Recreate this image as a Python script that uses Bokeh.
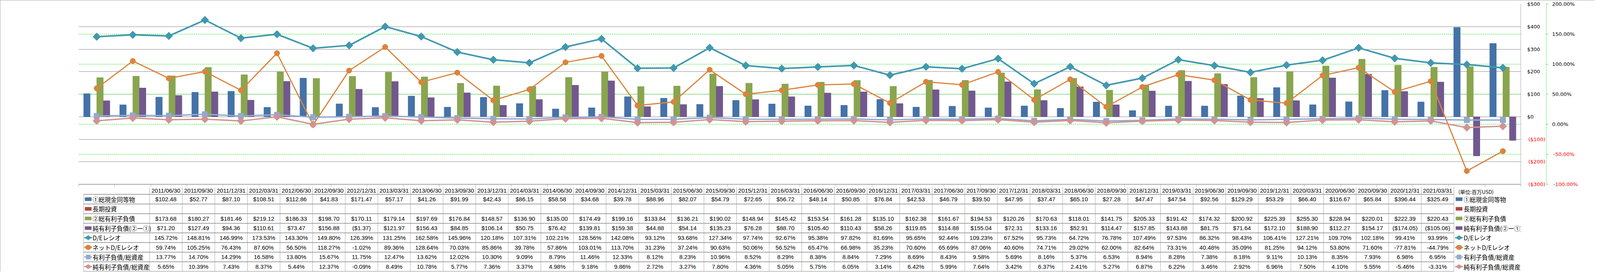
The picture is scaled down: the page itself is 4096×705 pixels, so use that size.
import math
from bokeh.plotting import figure
from bokeh.models import (ColumnDataSource, Range1d, LinearAxis, FixedTicker,
                          CustomJSTickFormatter, Grid, Span)
from bokeh.layouts import column
from bokeh.transform import dodge
from bokeh.core.properties import value
from bokeh.embed import file_html
from bokeh.resources import INLINE

# ---------------- data ----------------
dates = ["2011/06/30", "2011/09/30", "2011/12/31", "2012/03/31", "2012/06/30", "2012/09/30",
         "2012/12/31", "2013/03/31", "2013/06/30", "2013/09/30", "2013/12/31", "2014/03/31",
         "2014/06/30", "2014/09/30", "2014/12/31", "2015/03/31", "2015/06/30", "2015/09/30",
         "2015/12/31", "2016/03/31", "2016/06/30", "2016/09/30", "2016/12/31", "2017/03/31",
         "2017/06/30", "2017/09/30", "2017/12/31", "2018/03/31", "2018/06/30", "2018/09/30",
         "2018/12/31", "2019/03/31", "2019/06/30", "2019/09/30", "2019/12/31", "2020/03/31",
         "2020/06/30", "2020/09/30", "2020/12/31", "2021/03/31"]
cash = [102.48, 52.77, 87.10, 108.51, 112.86, 41.83, 171.47, 57.17, 41.26, 91.99,
        42.43, 86.15, 58.58, 34.68, 39.78, 88.96, 82.07, 54.79, 72.65, 56.72,
        48.14, 50.85, 76.84, 42.53, 46.79, 39.50, 47.95, 37.47, 65.10, 27.28,
        47.47, 47.54, 92.56, 129.29, 53.29, 66.40, 116.67, 65.84, 396.44, 325.49]
long_term_investment = []  # empty series in the source
total_debt = [173.68, 180.27, 181.46, 219.12, 186.33, 198.70, 170.11, 179.14, 197.69, 176.84,
              148.57, 136.90, 135.00, 174.49, 199.16, 133.84, 136.21, 190.02, 148.94, 145.42,
              153.54, 161.28, 135.10, 162.38, 161.67, 194.53, 120.26, 170.63, 118.01, 141.75,
              205.33, 191.42, 174.32, 200.92, 225.39, 255.30, 228.94, 220.01, 222.39, 220.43]
net_debt = [71.20, 127.49, 94.36, 110.61, 73.47, 156.88, -1.37, 121.97, 156.43, 84.85,
            106.14, 50.75, 76.42, 139.81, 159.38, 44.88, 54.14, 135.23, 76.28, 88.70,
            105.40, 110.43, 58.26, 119.85, 114.88, 155.04, 72.31, 133.16, 52.91, 114.47,
            157.85, 143.88, 81.75, 71.64, 172.10, 188.90, 112.27, 154.17, -174.05, -105.06]
de_ratio = [145.72, 148.81, 146.99, 173.53, 143.30, 149.80, 126.39, 131.25, 162.58, 145.96,
            120.18, 107.31, 102.21, 128.56, 142.08, 93.12, 93.68, 127.34, 97.74, 92.67,
            95.38, 97.82, 81.69, 95.65, 92.44, 109.23, 67.52, 95.73, 64.72, 76.78,
            107.49, 97.53, 86.32, 98.43, 106.41, 127.21, 109.70, 102.18, 99.41, 93.99]
net_de_ratio = [59.74, 105.25, 76.43, 87.60, 56.50, 118.27, -1.02, 89.36, 128.64, 70.03,
                85.86, 39.78, 57.86, 103.01, 113.70, 31.23, 37.24, 90.63, 50.06, 56.52,
                65.47, 66.98, 35.23, 70.60, 65.69, 87.06, 40.60, 74.71, 29.02, 62.00,
                82.64, 73.31, 40.48, 35.09, 81.25, 94.12, 53.80, 71.60, -77.81, -44.79]
debt_to_assets = [13.77, 14.70, 14.29, 16.58, 13.80, 15.67, 11.75, 12.47, 13.62, 12.02,
                  10.30, 9.09, 8.79, 11.46, 12.33, 8.12, 8.23, 10.96, 8.52, 8.29,
                  8.38, 8.84, 7.29, 8.69, 8.43, 9.58, 5.69, 8.16, 5.37, 6.53,
                  8.94, 8.28, 7.38, 8.18, 9.11, 10.13, 8.35, 7.93, 6.98, 6.95]
net_debt_to_assets = [5.65, 10.39, 7.43, 8.37, 5.44, 12.37, -0.09, 8.49, 10.78, 5.77,
                      7.36, 3.37, 4.98, 9.18, 9.86, 2.72, 3.27, 7.80, 4.36, 5.05,
                      5.75, 6.05, 3.14, 6.42, 5.99, 7.64, 3.42, 6.37, 2.41, 5.27,
                      6.87, 6.22, 3.46, 2.92, 6.96, 7.50, 4.10, 5.55, -5.46, -3.31]
series_names = ["①総現金同等物", "長期投資", "②総有利子負債", "純有利子負債(②ー①)",
                "D/Eレシオ", "ネットD/Eレシオ", "有利子負債/総資産", "純有利子負債/総資産"]
usd_ticks = [-300, -200, -100, 0, 100, 200, 300, 400, 500]
pct_ticks = [-100, -50, 0, 50, 100, 150, 200]
unit_label = "(単位:百万USD)"

# ---------------- styles ----------------
C_CASH, C_LTI, C_DEBT, C_NET = "#4572A7", "#AA4643", "#89A54E", "#71588F"
C_DE, C_NDE, C_DA, C_NDA = "#4198AF", "#DB843D", "#93A9CF", "#D19392"
GRAY, GRAY_L, GREEN = "#868686", "#a8a8a8", "#00E000"
AX_FONT = "DejaVu Sans"
TB_FONT = "Liberation Sans"
JP_FONT = "Noto Sans CJK JP"

W, H = 4082, 696
SX, SY = W / 6226, H / 1071
n = len(dates)

top_b = round(15.6 * SY)
frame_h = round(711.4 * SY)
bot_b = 7
H1 = top_b + frame_h + bot_b
left_b = round(306 * SX)
frame_w = round(5631 * SX)
right_b = W - left_b - frame_w

src = ColumnDataSource(dict(idx=list(range(n)), cash=cash, debt=total_debt, net=net_debt,
                            de=de_ratio, nde=net_de_ratio, da=debt_to_assets, nda=net_debt_to_assets))

p1 = figure(width=W, height=H1, x_range=Range1d(-0.5, n - 0.5), y_range=Range1d(-300, 500),
            output_backend="svg", toolbar_location=None, x_axis_location=None, y_axis_location=None,
            min_border_left=left_b, min_border_right=right_b, min_border_top=top_b,
            min_border_bottom=bot_b)
p1.extra_y_ranges = {"pct": Range1d(-100, 200)}
p1.outline_line_color = None
p1.background_fill_color = "white"
p1.border_fill_color = "white"
for g in p1.grid:
    g.visible = False

def no_ticks(ax):
    ax.major_tick_out = 0
    ax.major_tick_in = 0
    ax.minor_tick_out = 0
    ax.minor_tick_in = 0
    ax.major_tick_line_color = None
    ax.minor_tick_line_color = None

# $ axis (non-negative labels, black)
axA = LinearAxis(ticker=FixedTicker(ticks=usd_ticks),
                 formatter=CustomJSTickFormatter(code="return tick >= 0 ? '$' + tick.toFixed(0) : '';"),
                 axis_line_color=None, major_label_standoff=16,
                 major_label_text_font=AX_FONT, major_label_text_font_size="13px",
                 major_label_text_color="#000000")
no_ticks(axA)
p1.add_layout(axA, "right")
# $ axis (negative labels, red) overlapping the previous column
axB = LinearAxis(ticker=FixedTicker(ticks=[t for t in usd_ticks if t < 0]),
                 formatter=CustomJSTickFormatter(code="return '($' + Math.abs(tick).toFixed(0) + ')';"),
                 axis_line_color=None, major_label_standoff=-33,
                 major_label_text_font=AX_FONT, major_label_text_font_size="13px",
                 major_label_text_color="#FF0000")
no_ticks(axB)
p1.add_layout(axB, "right")
# % axis
axC = LinearAxis(y_range_name="pct", ticker=FixedTicker(ticks=pct_ticks),
                 formatter=CustomJSTickFormatter(code="return tick >= 0 ? tick.toFixed(2) + '%' : '';"),
                 axis_line_color=GREEN, axis_line_dash="3 2", axis_line_width=1,
                 major_tick_out=5, major_tick_in=0, minor_tick_out=0, minor_tick_in=0,
                 major_tick_line_color=GREEN, minor_tick_line_color=None,
                 major_label_standoff=10,
                 major_label_text_font=AX_FONT, major_label_text_font_size="13px",
                 major_label_text_color="#000000")
p1.add_layout(axC, "right")
axD = LinearAxis(y_range_name="pct", ticker=FixedTicker(ticks=[t for t in pct_ticks if t < 0]),
                 formatter=CustomJSTickFormatter(code="return tick.toFixed(2) + '%';"),
                 axis_line_color=None, major_label_standoff=-58,
                 major_label_text_font=AX_FONT, major_label_text_font_size="13px",
                 major_label_text_color="#FF0000")
no_ticks(axD)
p1.add_layout(axD, "right")
# bottom axis = header top line with column separators
axE = LinearAxis(ticker=FixedTicker(ticks=[j - 0.5 for j in range(n + 1)]),
                 formatter=CustomJSTickFormatter(code="return '';"),
                 axis_line_color=GRAY, axis_line_width=1.5,
                 major_tick_out=bot_b, major_tick_in=0, minor_tick_out=0, minor_tick_in=0,
                 major_tick_line_color=GRAY_L, major_tick_line_width=1,
                 minor_tick_line_color=None, major_label_standoff=0,
                 major_label_text_font_size="1px")
p1.add_layout(axE, "below")

# grids
p1.add_layout(Grid(dimension=1, ticker=FixedTicker(ticks=usd_ticks),
                   grid_line_color=GRAY, grid_line_width=1))
p1.add_layout(Grid(dimension=1, ticker=FixedTicker(ticks=[t for t in pct_ticks if -100 < t < 200]),
                   y_range_name="pct", grid_line_color=GREEN, grid_line_dash="3 2",
                   grid_line_width=1.2))
p1.add_layout(Span(location=n - 0.5, dimension="height", line_color=GRAY, line_width=1.5))

# bars
bw = 0.18
p1.vbar(x=dodge("idx", -0.2727, range=p1.x_range), top="cash", width=bw, color=C_CASH, source=src)
p1.vbar(x=dodge("idx", 0.0909, range=p1.x_range), top="debt", width=bw, color=C_DEBT, source=src)
p1.vbar(x=dodge("idx", 0.2727, range=p1.x_range), top="net", width=bw, color=C_NET, source=src)

# lines (right axis)
p1.line("idx", "de", source=src, y_range_name="pct", line_color=C_DE, line_width=4, line_join="round")
p1.scatter("idx", "de", source=src, y_range_name="pct", marker="square", angle=math.pi / 4,
           size=14, fill_color=C_DE, line_color=C_DE)
p1.line("idx", "nde", source=src, y_range_name="pct", line_color=C_NDE, line_width=3, line_join="round")
p1.scatter("idx", "nde", source=src, y_range_name="pct", marker="circle",
           size=14, fill_color=C_NDE, line_color=C_NDE)
p1.line("idx", "da", source=src, y_range_name="pct", line_color=C_DA, line_width=3.5, line_join="round")
p1.scatter("idx", "da", source=src, y_range_name="pct", marker="square",
           size=14, fill_color=C_DA, line_color="#8aa2cc")
p1.line("idx", "nda", source=src, y_range_name="pct", line_color=C_NDA, line_width=3.5, line_join="round")
p1.scatter("idx", "nda", source=src, y_range_name="pct", marker="square", angle=math.pi / 4,
           size=14, fill_color=C_NDA, line_color=C_NDA)

# ---------------- table ----------------
H2 = H - H1
COL = 5631 / n
def fx(full):
    return (full - 306) / COL - 0.5
ROW, R0 = 38.0, 728.0
y_top = (H1 / SY - R0) / ROW
y_bot = (1071 - R0) / ROW

p2 = figure(width=W, height=H2, x_range=Range1d(fx(0), fx(6226)), y_range=Range1d(y_bot, y_top),
            output_backend="svg", toolbar_location=None, x_axis_location=None, y_axis_location=None,
            min_border=0)
p2.outline_line_color = None
p2.background_fill_color = "white"
p2.border_fill_color = "white"
for g in p2.grid:
    g.visible = False

# table rules
p2.segment(x0=[j - 0.5 for j in range(n + 1)], y0=[0] * (n + 1),
           x1=[j - 0.5 for j in range(n + 1)], y1=[9] * (n + 1), line_color=GRAY_L, line_width=1)
p2.segment(x0=[fx(21)], y0=[1], x1=[fx(21)], y1=[9], line_color=GRAY_L, line_width=1)
p2.segment(x0=[fx(21)] * 9, y0=list(range(1, 10)), x1=[n - 0.5] * 9, y1=list(range(1, 10)),
           line_color=GRAY, line_width=1.5)

def money(v):
    return f"(${abs(v):.2f})" if v < 0 else f"${v:.2f}"

def pct(v):
    return f"{v:.2f}%"

header_y = (751 - R0) / ROW
tx, ty, tt = [], [], []
for i, d in enumerate(dates):
    tx.append(i); ty.append(header_y); tt.append(d)
rows = [(1, cash, money), (3, total_debt, money), (4, net_debt, money), (5, de_ratio, pct),
        (6, net_de_ratio, pct), (7, debt_to_assets, pct), (8, net_debt_to_assets, pct)]
for r, arr, f in rows:
    for i, v in enumerate(arr):
        tx.append(i); ty.append(r + 0.5); tt.append(f(v))
p2.text(x=tx, y=ty, text=tt, text_align="center", text_baseline="middle",
        text_font=value(TB_FONT), text_font_size="15px", text_color="#000000")

# legend columns (left and right)
bar_cols = [C_CASH, C_LTI, C_DEBT, C_NET]
line_cols = [C_DE, C_NDE, C_DA, C_NDA]
for icon_c, text_x in [(41, 60), (5959, 5979)]:
    cx = fx(icon_c)
    p2.rect(x=[cx] * 4, y=[1.5, 2.5, 3.5, 4.5], width=29 / COL, height=14 / ROW,
            fill_color=bar_cols, line_color=None)
    p2.segment(x0=[fx(icon_c - 17)] * 4, y0=[5.5, 6.5, 7.5, 8.5], x1=[fx(icon_c + 17)] * 4,
               y1=[5.5, 6.5, 7.5, 8.5], line_color=line_cols, line_width=3)
    p2.scatter(x=[cx], y=[5.5], marker="diamond", angle=math.pi / 2, size=17,
               fill_color=C_DE, line_color=C_DE)
    p2.ellipse(x=[cx], y=[6.5], width=15, height=12, width_units="screen", height_units="screen",
               fill_color=C_NDE, line_color=C_NDE)
    p2.scatter(x=[cx], y=[7.5], marker="square", size=11, fill_color=C_DA, line_color=C_DA)
    p2.scatter(x=[cx], y=[8.5], marker="diamond", angle=math.pi / 2, size=17,
               fill_color=C_NDA, line_color=C_NDA)
    p2.text(x=[fx(text_x)] * 8, y=[k + 1.5 for k in range(8)], text=series_names,
            text_align="left", text_baseline="middle", text_font=value(JP_FONT),
            text_font_size="15.5px", text_color="#000000")

p2.text(x=[fx(5956)], y=[(756 - R0) / ROW], text=[unit_label], text_align="left",
        text_baseline="middle", text_font=value(JP_FONT), text_font_size="13px",
        text_color="#000000")

layout = column(p1, p2, spacing=0,
                styles={"outline": "1px solid #8c8c8c", "outline-offset": "-1px"})

open("out.html", "w").write(file_html(layout, INLINE))
